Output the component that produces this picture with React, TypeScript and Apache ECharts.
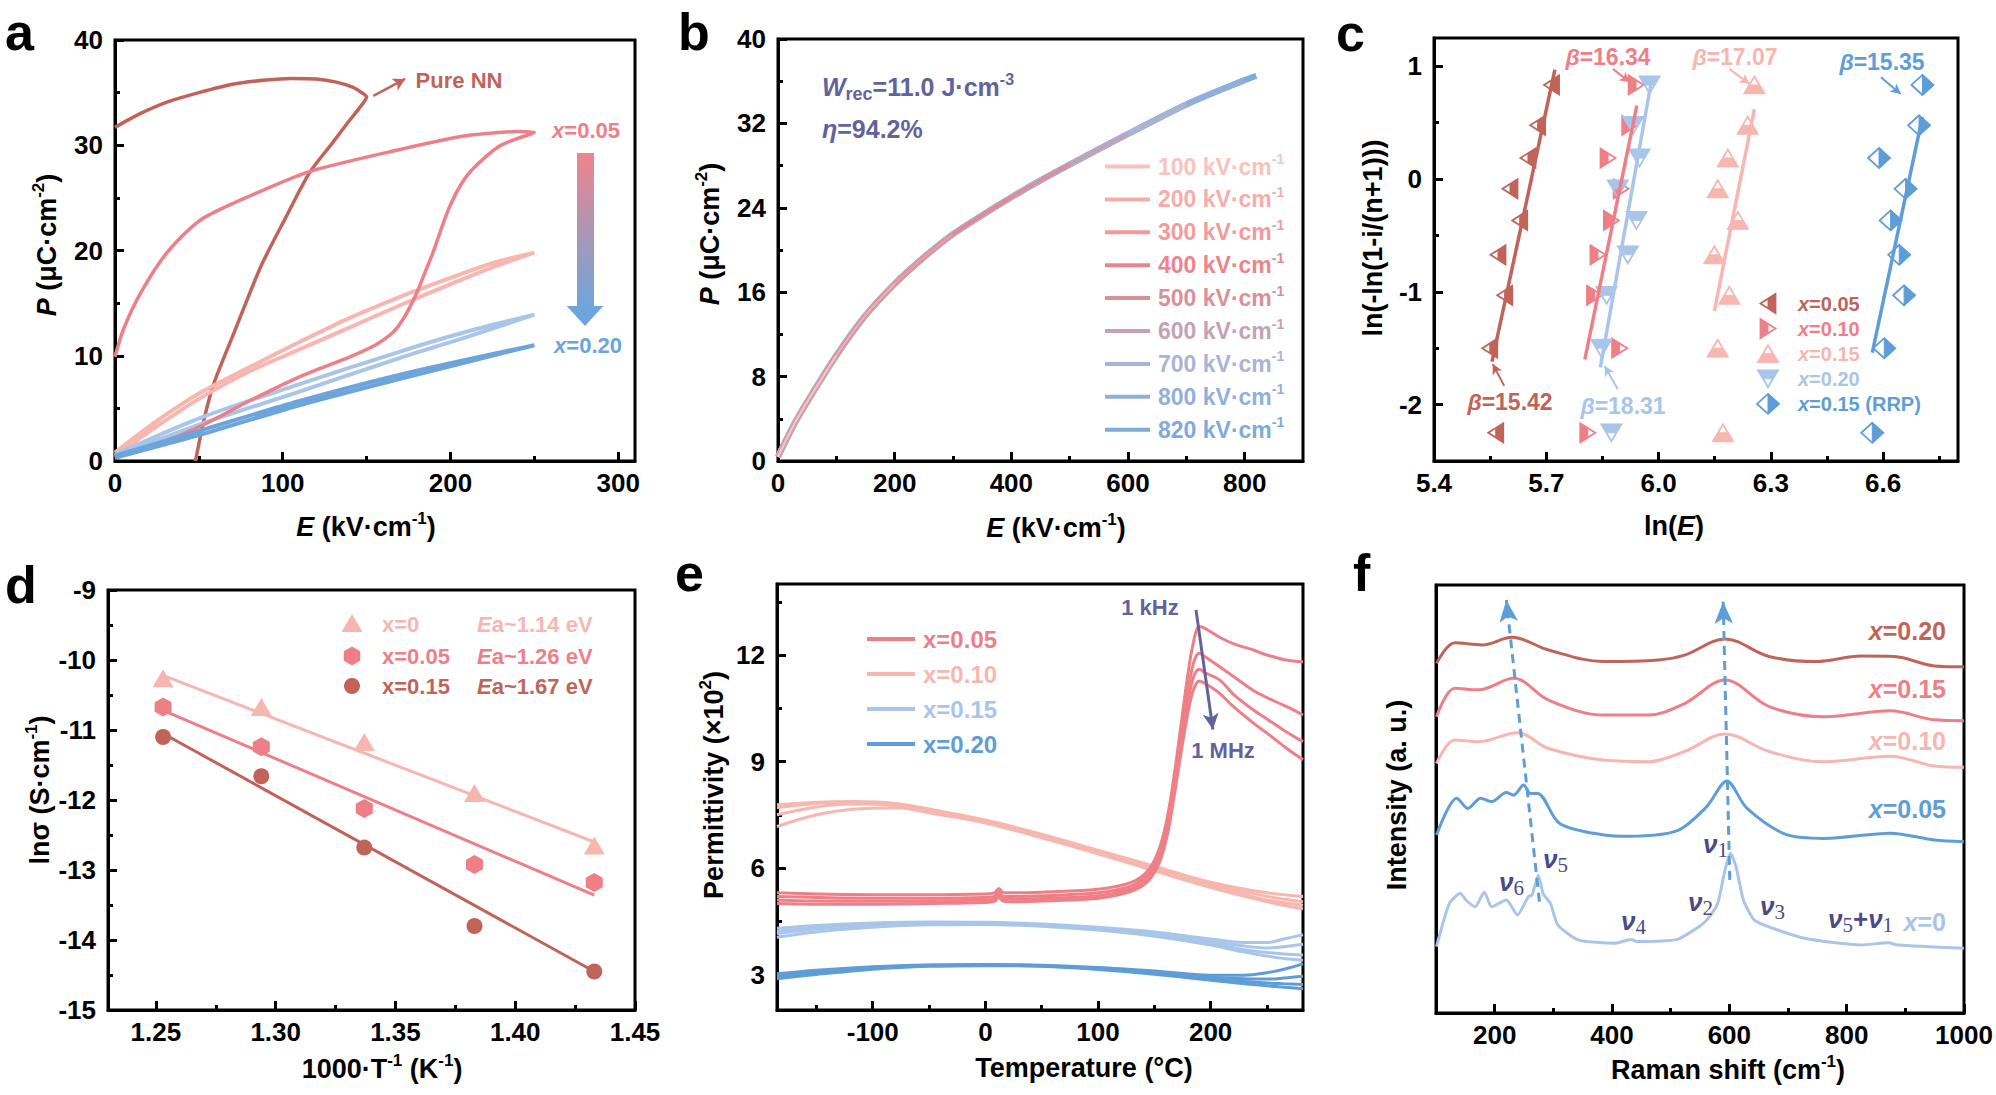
import React, { useEffect, useRef } from "react";
import * as echarts from "echarts";

const FONT = '"Liberation Sans", Arial, Helvetica, sans-serif';
const SERIF = '"Liberation Serif", "Times New Roman", serif';
const TICK_FS = 26;
const TITLE_FS = 27;

const BROWN = "#C0645A";
const PINK = "#EF7F87";
const LPINK = "#F7B6B0";
const LBLUE = "#A9C5EA";
const BLUE = "#5F9DD8";
const ABLUE = "#6CA4DC";
const SLATE = "#61639C";
const NU = "#4A4A86";

// ---------- panel a : P-E loops ----------
const aPureNN = [[0,31.7],[15,33.0],[31,34.1],[50,35.0],[70,35.8],[90,36.2],[105,36.35],[120,36.3],[132,36.0],[142,35.5],[148,34.9],[150,34.6],[146,33.6],[140,32.4],[130,30.3],[116,27.4],[102,23.2],[87,18.5],[71,12.2],[59,7.4],[53,3.9],[48,0]];
const aX005 = [[0,0.3],[25,1.6],[51,3.3],[80,5.7],[110,8],[140,9.9],[155,11.0],[165.6,12.2],[173,13.8],[180,16],[185,18],[189.6,19.8],[195,22.3],[199.6,24.2],[206,26.2],[213,27.7],[229,29.9],[241,30.7],[250,31.2],[241,31.3],[209,30.9],[170,29.6],[116,27.5],[80.7,25.2],[51,22.9],[31,19.8],[15.4,16],[5,12.5],[0,9.9]];
const aX010 = [[0,0.5],[25,3.3],[51,6.0],[80,8.5],[110,10.6],[140,12.7],[170,14.8],[200,16.8],[225,18.4],[250,19.8],[225,18.8],[200,17.4],[170,15.6],[140,13.6],[110,11.3],[80,8.9],[51,6.5],[25,3.8],[0,0.8]];
const aX015 = [[0,0.4],[51,3.5],[110,6.6],[170,9.8],[210,11.8],[250,13.9],[210,12.3],[170,10.4],[110,7.3],[51,4.1],[0,0.6]];
const aX020 = [[0,0.3],[51,2.5],[110,5.3],[170,7.8],[250,11.0],[170,8.2],[110,5.7],[51,2.9],[0,0.5]];

// ---------- panel b : unipolar loops ----------
const bFields = [100, 200, 300, 400, 500, 600, 700, 800, 820];
const bColors = ["#F9C2BD", "#F6ADA9", "#F39A9B", "#EE848B", "#DB8F98", "#C4A2B6", "#A9B4D5", "#92AFDC", "#7EAADC"];
const bE = [0, 25, 50, 100, 150, 200, 250, 300, 350, 400, 450, 500, 600, 700, 800, 820];
const bP = [0.4, 3.2, 5.6, 10, 13.8, 16.8, 19.3, 21.5, 23.3, 25, 26.6, 28.1, 31, 33.8, 36.1, 36.5];

// ---------- panel c : Weibull ----------
const cY = [-2.25, -1.5, -1.031, -0.672, -0.367, -0.087, 0.186, 0.476, 0.834];
const cX005 = [5.565, 5.549, 5.589, 5.571, 5.629, 5.603, 5.651, 5.677, 5.714];
const cX010 = [5.811, 5.896, 5.829, 5.838, 5.874, 5.9, 5.865, 5.923, 5.94];
const cX015 = [6.172, 6.158, 6.189, 6.149, 6.212, 6.158, 6.185, 6.238, 6.256];
const cX020 = [5.874, 5.847, 5.861, 5.918, 5.941, 5.891, 5.949, 5.932, 5.976];
const cXRRP = [6.571, 6.603, 6.656, 6.643, 6.62, 6.66, 6.589, 6.696, 6.705];
const cFit005 = [[5.555, -1.62], [5.723, 0.97]];
const cFit010 = [[5.803, -1.6], [5.942, 0.65]];
const cFit015 = [[6.149, -1.17], [6.256, 0.62]];
const cFit020 = [[5.8445, -1.67], [5.9805, 0.86]];
const cFitRRP = [[6.571, -1.54], [6.705, 0.55]];

// ---------- panel d : Arrhenius ----------
const dX = [1.253, 1.294, 1.337, 1.383, 1.433];
const dY0 = [-10.26, -10.67, -11.17, -11.9, -12.65];
const dY005 = [-10.67, -11.24, -12.12, -12.92, -13.18];
const dY015 = [-11.1, -11.66, -12.68, -13.8, -14.45];
const dFit0 = [[1.253, -10.22], [1.433, -12.6]];
const dFit005 = [[1.253, -10.72], [1.433, -13.36]];
const dFit015 = [[1.253, -11.05], [1.433, -14.45]];

// ---------- panel e : permittivity ----------
const eT05 = [-185,-150,-100,-50,0,8,12,16,25,50,100,130,145,155,162,168,174,180,185,190,195,208,220,238,250,267,282];
const e05a = [5.3,5.27,5.25,5.25,5.27,5.3,5.42,5.3,5.3,5.32,5.4,5.6,5.95,6.6,7.5,8.7,10.1,11.5,12.4,12.8,12.75,12.5,12.32,12.14,12.0,11.86,11.81];
const e05b = [5.2,5.17,5.15,5.15,5.17,5.2,5.33,5.2,5.2,5.22,5.3,5.5,5.85,6.45,7.3,8.5,9.8,11.0,11.8,12.05,11.95,11.67,11.4,11.0,10.8,10.55,10.31];
const e05c = [5.1,5.07,5.06,5.07,5.1,5.13,5.25,5.13,5.12,5.14,5.22,5.42,5.75,6.3,7.1,8.3,9.5,10.7,11.4,11.6,11.5,11.3,10.9,10.45,10.2,9.84,9.56];
const e05d = [5.0,4.98,4.98,5.0,5.03,5.06,5.18,5.06,5.05,5.07,5.15,5.35,5.65,6.2,7.0,8.1,9.3,10.4,11.05,11.27,11.2,10.92,10.55,10.08,9.8,9.38,9.05];
const eT10 = [-185,-150,-120,-80,-40,0,50,100,150,200,250,282];
const e10a = [7.78,7.85,7.87,7.82,7.6,7.35,6.95,6.5,6.05,5.6,5.3,5.2];
const e10b = [7.7,7.82,7.85,7.8,7.58,7.32,6.9,6.45,6.0,5.55,5.2,5.05];
const e10c = [7.5,7.72,7.8,7.76,7.55,7.3,6.88,6.42,5.95,5.5,5.1,4.95];
const e10d = [7.17,7.5,7.65,7.7,7.5,7.27,6.85,6.4,5.92,5.45,5.05,4.85];
const eT15 = [-185,-150,-100,-50,0,50,100,150,200,230,250,265,282];
const e15a = [4.3,4.38,4.45,4.48,4.47,4.42,4.33,4.2,4.0,3.9,3.9,4.0,4.12];
const e15b = [4.22,4.33,4.42,4.46,4.45,4.4,4.3,4.15,3.93,3.8,3.75,3.78,3.85];
const e15c = [4.15,4.28,4.38,4.43,4.43,4.38,4.28,4.12,3.88,3.7,3.62,3.58,3.55];
const e15d = [4.05,4.2,4.33,4.4,4.41,4.36,4.25,4.08,3.83,3.63,3.52,3.45,3.4];
const e20a = [3.02,3.12,3.22,3.27,3.28,3.26,3.2,3.1,2.98,2.98,3.05,3.15,3.3];
const e20b = [2.98,3.08,3.2,3.26,3.27,3.25,3.18,3.07,2.93,2.88,2.87,2.9,2.95];
const e20c = [2.93,3.05,3.18,3.25,3.26,3.24,3.16,3.04,2.88,2.8,2.76,2.74,2.72];
const e20d = [2.88,3.0,3.15,3.23,3.25,3.23,3.14,3.01,2.84,2.74,2.68,2.64,2.6];

// ---------- panel f : Raman ----------
const f020 = [[100.9,81.7],[132.2,86.5],[179.2,86.0],[229.3,87.8],[292,84.8],[385.9,82.1],[479.9,82.5],[523.7,83.6],[592.6,87.4],[667.8,83.3],[749.2,82.1],[824.4,83.4],[880.8,83.3],[949.7,81.1],[999.8,80.9]];
const f015 = [[100.9,69.2],[132.2,75.9],[172.9,75.5],[232.5,78.2],[292,73.1],[385.9,69.6],[461.1,69.6],[523.7,72.3],[592.6,77.8],[667.8,71.6],[761.8,69.2],[874.5,70.6],[949.7,68.5],[999.8,68.3]];
const f010 = [[100.9,58.3],[132.2,63.8],[172.9,63.4],[238.7,65.5],[292,61.8],[385.9,59.1],[461.1,58.7],[523.7,61.1],[592.6,65.2],[667.8,61.1],[761.8,58.7],[874.5,60.0],[949.7,57.7],[999.8,57.4]];
const f005 = [[100.9,41.6],[135.4,50.2],[154.2,47.8],[176.1,50.2],[194.9,49.4],[219.9,51.5],[232.5,50.9],[249.4,53.3],[260.6,51.3],[273.2,51.3],[310.8,44.3],[385.9,41.6],[429.8,41.3],[511.2,42.6],[561.3,48.2],[595.8,54.2],[630.2,47.8],[699.1,41.6],[761.8,40.8],[874.5,42.0],[949.7,40.4],[999.8,40.0]];
const f000 = [[100.9,15.5],[122.8,25.6],[141.6,28.0],[151,26.4],[166.7,24.8],[182.3,28.3],[194.9,24.8],[219.9,26.4],[238.7,22.9],[257.5,27.2],[263.8,27.6],[274.4,32.2],[282.6,27.9],[295.1,25.6],[307.6,20.6],[342.1,17.1],[404.7,16.3],[432.9,17.2],[442.3,16.7],[511.2,17.2],[548.8,20.2],[561.3,21.7],[580.1,25.6],[592.6,33.4],[602,37.3],[611.4,34.2],[624,26.4],[642.7,21.7],[674,19.8],[730.4,17.4],[824.4,15.9],[871.3,16.4],[887,15.9],[999.8,15.1]];

// ---------- helpers ----------
function rich(color: string, s: number) {
  const base: any = { fill: color, color, fontFamily: FONT, fontWeight: "bold", fontSize: s, lineHeight: Math.round(s * 1.25) };
  return {
    n: { ...base },
    i: { ...base, fontStyle: "italic" },
    sup: { ...base, fontSize: Math.round(s * 0.62), lineHeight: Math.round(s * 0.6), verticalAlign: "top" },
    sub: { ...base, fontSize: Math.round(s * 0.72), lineHeight: Math.round(s * 0.6), verticalAlign: "bottom" },
    v: { ...base, fontStyle: "italic" },
    s: { ...base, fontFamily: SERIF, fontWeight: "normal", fontSize: Math.round(s * 0.8), lineHeight: Math.round(s * 0.6), verticalAlign: "bottom" },
  };
}

function T(x: number, y: number, text: string, color: string, s: number, align = "left", rot = 0) {
  return {
    type: "text", x, y, rotation: rot, z: 50, silent: true,
    style: { x: 0, y: 0, text, fill: color, fontFamily: FONT, fontWeight: "bold", fontSize: s, align, textAlign: align, verticalAlign: "middle", textVerticalAlign: "middle", rich: rich(color, s) },
  };
}

function letter(x: number, y: number, t: string) {
  return {
    type: "text", x, y, z: 50, silent: true,
    style: { x: 0, y: 0, text: t, fill: "#000", fontFamily: FONT, fontWeight: "bold", fontSize: 52, lineHeight: 52, align: "left", textAlign: "left", verticalAlign: "middle", textVerticalAlign: "middle" },
  };
}

function markerPolys(shape: string, cx: number, cy: number, color: string) {
  let outline: number[][];
  let half: number[][];
  if (shape === "diamond") {
    outline = [[0, -10], [11, 0], [0, 10], [-11, 0]];
    half = [[0, -10], [11, 0], [0, 10]];
  } else {
    const side = shape === "left" || shape === "right";
    const w = side ? 19 : 20;
    const h = side ? 15 : 17;
    const tri = [[0, -h / 2], [w / 2, h / 2], [-w / 2, h / 2]];
    const hf = [[-w / 4, 0], [w / 4, 0], [w / 2, h / 2], [-w / 2, h / 2]];
    const map = (p: number[]) =>
      shape === "up" ? [p[0], p[1]] : shape === "down" ? [p[0], -p[1]] : shape === "left" ? [p[1], p[0]] : [-p[1], p[0]];
    outline = tri.map(map);
    half = hf.map(map);
  }
  const tr = (pts: number[][]) => pts.map((p) => [cx + p[0], cy + p[1]]);
  return [
    { type: "polygon", shape: { points: tr(half) }, style: { fill: color, stroke: color, lineWidth: 1 } },
    { type: "polygon", shape: { points: tr(outline) }, style: { fill: "none", stroke: color, lineWidth: 1.8 } },
  ];
}

function addAxis(list: any[], dim: "x" | "y", grid: number, min: number, max: number, cfg: any): number {
  const base: any = {
    type: "value", gridIndex: grid, min, max,
    position: dim === "x" ? "bottom" : "left",
    axisLine: { show: true, onZero: false, lineStyle: { color: "#000", width: 3 } },
    axisTick: { show: cfg.ticks !== false, inside: true, length: 9, lineStyle: { color: "#000", width: 3 } },
    axisLabel: { show: cfg.labels !== false, color: "#000", fontFamily: FONT, fontWeight: "bold", fontSize: TICK_FS, margin: dim === "x" ? 9 : 12, formatter: cfg.fmt || ((v: number) => String(v)) },
    splitLine: { show: false },
  };
  if (cfg.interval) {
    base.interval = cfg.interval;
    base.minorTick = { show: true, splitNumber: 2, length: 5, lineStyle: { color: "#000", width: 3 } };
  }
  if (cfg.major) {
    base.axisTick.customValues = cfg.major;
    base.axisLabel.customValues = cfg.major;
  }
  const idx = list.length;
  list.push(base);
  if (cfg.minor) {
    list.push({
      type: "value", gridIndex: grid, min, max, position: base.position,
      axisLine: { show: false, onZero: false },
      axisTick: { show: true, inside: true, length: 5, customValues: cfg.minor, lineStyle: { color: "#000", width: 3 } },
      axisLabel: { show: false }, splitLine: { show: false },
    });
  }
  return idx;
}

function arrowML(from: number[], to: number[], color: string, width: number, size: number[], dashed = false) {
  return {
    silent: true, symbol: ["none", "arrow"], symbolSize: size, label: { show: false }, emphasis: { disabled: true },
    lineStyle: { color, width, type: dashed ? [9, 6] : "solid", opacity: 1 },
    data: [[{ coord: from }, { coord: to }]],
  };
}

function buildOption() {
  const grids = [
    { left: 115, top: 40, width: 520, height: 421 },
    { left: 778, top: 39, width: 525, height: 422 },
    { left: 1434, top: 38, width: 524, height: 423 },
    { left: 108, top: 590, width: 527, height: 420 },
    { left: 777, top: 584, width: 526, height: 426 },
    { left: 1436, top: 585, width: 528, height: 428 },
  ].map((g) => ({ ...g, show: true, borderColor: "#000", borderWidth: 3, backgroundColor: "transparent" }));

  const xA: any[] = [];
  const yA: any[] = [];
  const ax = addAxis(xA, "x", 0, 0, 310, { major: [0, 100, 200, 300], minor: [50, 150, 250] });
  const ay = addAxis(yA, "y", 0, 0, 40, { interval: 10 });
  const bx = addAxis(xA, "x", 1, 0, 900, { major: [0, 200, 400, 600, 800], minor: [100, 300, 500, 700] });
  const by = addAxis(yA, "y", 1, 0, 40, { interval: 8 });
  const cx = addAxis(xA, "x", 2, 5.4, 6.8, { major: [5.4, 5.7, 6.0, 6.3, 6.6], minor: [5.55, 5.85, 6.15, 6.45, 6.75], fmt: (v: number) => v.toFixed(1) });
  const cy = addAxis(yA, "y", 2, -2.5, 1.25, { major: [-2, -1, 0, 1], minor: [-1.5, -0.5, 0.5] });
  const dx = addAxis(xA, "x", 3, 1.23, 1.45, { major: [1.25, 1.3, 1.35, 1.4, 1.45], minor: [1.275, 1.325, 1.375, 1.425], fmt: (v: number) => v.toFixed(2) });
  const dy = addAxis(yA, "y", 3, -15, -9, { interval: 1 });
  const ex = addAxis(xA, "x", 4, -185, 282, { major: [-100, 0, 100, 200], minor: [-150, -50, 50, 150, 250] });
  const ey = addAxis(yA, "y", 4, 2, 14, { major: [3, 6, 9, 12], minor: [4.5, 7.5, 10.5, 13.5] });
  const fx = addAxis(xA, "x", 5, 100, 1000, { major: [200, 400, 600, 800, 1000], minor: [300, 500, 700, 900] });
  const fy = addAxis(yA, "y", 5, 0, 100, { labels: false, ticks: false });

  const S: any[] = [];
  const line = (xi: number, yi: number, data: any[], color: string, width: number, extra: any = {}) =>
    S.push({ type: "line", xAxisIndex: xi, yAxisIndex: yi, data, showSymbol: false, symbol: "none", smooth: 0.3, lineStyle: { color, width }, itemStyle: { color }, silent: true, ...extra });

  // a
  line(ax, ay, aPureNN, BROWN, 3.5, { smooth: 0.25, markLine: arrowML([154, 34.7], [173, 36.3], BROWN, 2.5, [10, 12]) });
  line(ax, ay, aX010, LPINK, 4);
  line(ax, ay, aX015, LBLUE, 4);
  line(ax, ay, aX005, PINK, 3.5, { smooth: 0.25 });
  line(ax, ay, aX020, ABLUE, 4);

  // b (reverse so lower fields are on top)
  for (let k = bFields.length - 1; k >= 0; k--) {
    const f = bFields[k];
    const data = bE.map((e, i) => [e, bP[i]]).filter((p) => p[0] <= f);
    const w = k >= 6 ? 6 : k >= 4 ? 4 : 2.2;
    line(bx, by, data, bColors[k], w);
  }

  // c
  const cSets: [number[], string, string, number[][], any][] = [
    [cX005, "left", BROWN, cFit005, arrowML([5.5875, -1.834], [5.557, -1.641], BROWN, 2, [8, 10])],
    [cX010, "right", PINK, cFit010, arrowML([5.878, 0.976], [5.923, 0.858], PINK, 2, [8, 10])],
    [cX015, "up", LPINK, cFit015, arrowML([6.189, 0.976], [6.243, 0.843], LPINK, 2, [8, 10])],
    [cX020, "down", LBLUE, cFit020, arrowML([5.891, -1.863], [5.856, -1.657], LBLUE, 2, [8, 10])],
    [cXRRP, "diamond", BLUE, cFitRRP, arrowML([6.594, 0.902], [6.647, 0.754], BLUE, 2, [8, 10])],
  ];
  cSets.forEach(([xs, shape, color, fit, ml]) => {
    S.push({
      type: "custom", coordinateSystem: "cartesian2d", xAxisIndex: cx, yAxisIndex: cy, silent: true, z: 3,
      data: xs.map((x, i) => [x, cY[i]]), encode: { x: 0, y: 1 },
      renderItem: (_p: any, api: any) => {
        const pt = api.coord([api.value(0), api.value(1)]);
        return { type: "group", children: markerPolys(shape, pt[0], pt[1], color) };
      },
    });
    line(cx, cy, fit, color, 3.5, { smooth: false, z: 4, markLine: ml });
  });

  // d
  const scat = (ys: number[], color: string, symbol: string, size: any) =>
    S.push({ type: "scatter", xAxisIndex: dx, yAxisIndex: dy, data: dX.map((x, i) => [x, ys[i]]), symbol, symbolSize: size, itemStyle: { color, opacity: 1 }, silent: true, z: 3 });
  line(dx, dy, dFit0, LPINK, 3, { smooth: false });
  line(dx, dy, dFit005, PINK, 3, { smooth: false });
  line(dx, dy, dFit015, BROWN, 3, { smooth: false });
  scat(dY0, LPINK, "triangle", [21, 18]);
  scat(dY005, PINK, "path://M10,0 L18.66,5 L18.66,15 L10,20 L1.34,15 L1.34,5 Z", [17, 19]);
  scat(dY015, BROWN, "circle", 16);

  // e
  const eLines = (Ts: number[], arrs: number[][], color: string) =>
    arrs.forEach((a, j) => line(ex, ey, Ts.map((t, i) => [t, a[i]]), color, 3, { smooth: 0.35, ...(j === 0 && color === PINK ? { markLine: arrowML([187, 13.27], [202, 9.9], SLATE, 3, [12, 16]) } : {}) }));
  eLines(eT10, [e10a, e10b, e10c, e10d], LPINK);
  eLines(eT15, [e15a, e15b, e15c, e15d], LBLUE);
  eLines(eT15, [e20a, e20b, e20c, e20d], BLUE);
  eLines(eT05, [e05a, e05b, e05c, e05d], PINK);

  // f
  line(fx, fy, f020, BROWN, 3, { smooth: 0.35, markLine: arrowML([276.3, 26.0], [219.9, 96.5], BLUE, 3, [14, 22], true) });
  line(fx, fy, f015, PINK, 3, { smooth: 0.35, markLine: arrowML([600.8, 31.1], [589.5, 96.1], BLUE, 3, [14, 22], true) });
  line(fx, fy, f010, LPINK, 3, { smooth: 0.35 });
  line(fx, fy, f005, BLUE, 3, { smooth: 0.3 });
  line(fx, fy, f000, LBLUE, 3, { smooth: 0.2 });

  // ---------- graphic ----------
  const G: any[] = [];
  ([["a", 5, 32], ["b", 678, 32], ["c", 1336, 33], ["d", 5, 585], ["e", 675, 573], ["f", 1353, 573]] as [string, number, number][]).forEach(([t, x, y]) =>
    G.push(letter(x, y, t)));

  const R90 = Math.PI / 2;
  G.push(T(366, 527, "{i|E}{n| (kV·cm}{sup|-1}{n|)}", "#000", TITLE_FS, "center"));
  G.push(T(47, 245, "{i|P}{n| (μC·cm}{sup|-2}{n|)}", "#000", TITLE_FS, "center", R90));
  G.push(T(1056, 528, "{i|E}{n| (kV·cm}{sup|-1}{n|)}", "#000", TITLE_FS, "center"));
  G.push(T(710, 234, "{i|P}{n| (μC·cm}{sup|-2}{n|)}", "#000", TITLE_FS, "center", R90));
  G.push(T(1674, 526, "{n|ln(}{i|E}{n|)}", "#000", TITLE_FS, "center"));
  G.push(T(1373, 238, "{n|ln(-ln(1-i/(n+1)))}", "#000", TITLE_FS, "center", R90));
  G.push(T(382, 1069, "{n|1000·T}{sup|-1}{n| (K}{sup|-1}{n|)}", "#000", TITLE_FS, "center"));
  G.push(T(40, 790, "{n|lnσ (S·cm}{sup|-1}{n|)}", "#000", TITLE_FS, "center", R90));
  G.push(T(1084, 1068, "{n|Temperature (°C)}", "#000", TITLE_FS, "center"));
  G.push(T(714, 785, "{n|Permittivity (×10}{sup|2}{n|)}", "#000", TITLE_FS, "center", R90));
  G.push(T(1728, 1070, "{n|Raman shift (cm}{sup|-1}{n|)}", "#000", TITLE_FS, "center"));
  G.push(T(1397, 795, "{n|Intensity (a. u.)}", "#000", TITLE_FS, "center", R90));

  // a annotations
  G.push(T(459, 80, "{n|Pure NN}", BROWN, 22, "center"));
  G.push(T(586, 130, "{i|x}{n|=0.05}", PINK, 22, "center"));
  G.push(T(588, 345, "{i|x}{n|=0.20}", ABLUE, 22, "center"));
  G.push({
    type: "rect", z: 40, silent: true, shape: { x: 577, y: 153, width: 17, height: 154 },
    style: { fill: new echarts.graphic.LinearGradient(0, 0, 0, 1, [{ offset: 0, color: "#EE848B" }, { offset: 1, color: "#6EA6DC" }]) },
  });
  G.push({ type: "polygon", z: 40, silent: true, shape: { points: [[566.7, 306], [603.3, 306], [585, 326]] }, style: { fill: "#6EA6DC" } });

  // b annotations + legend
  G.push(T(822, 87, "{i|W}{sub|rec}{n|=11.0 J·cm}{sup|-3}", SLATE, 25));
  G.push(T(822, 129, "{i|η}{n|=94.2%}", SLATE, 25));
  bFields.forEach((f, i) => {
    const y = 166.5 + i * 32.9;
    G.push({ type: "line", z: 40, silent: true, shape: { x1: 1105, y1: y, x2: 1150, y2: y }, style: { stroke: bColors[i], lineWidth: 4 } });
    G.push(T(1158, y, `{n|${f} kV·cm}{sup|-1}`, bColors[i], 23));
  });

  // c annotations + legend
  G.push(T(1608, 57, "{i|β}{n|=16.34}", PINK, 23, "center"));
  G.push(T(1735, 57, "{i|β}{n|=17.07}", LPINK, 23, "center"));
  G.push(T(1882, 62, "{i|β}{n|=15.35}", BLUE, 23, "center"));
  G.push(T(1510, 402, "{i|β}{n|=15.42}", BROWN, 23, "center"));
  G.push(T(1623, 406, "{i|β}{n|=18.31}", LBLUE, 23, "center"));
  const cLeg: [string, string, string][] = [
    ["left", BROWN, "{i|x}{n|=0.05}"], ["right", PINK, "{i|x}{n|=0.10}"], ["up", LPINK, "{i|x}{n|=0.15}"],
    ["down", LBLUE, "{i|x}{n|=0.20}"], ["diamond", BLUE, "{i|x}{n|=0.15 (RRP)}"],
  ];
  cLeg.forEach(([sh, col, t], i) => {
    const y = 303.5 + i * 25.1;
    markerPolys(sh, 1768, y, col).forEach((el) => G.push({ ...el, z: 40, silent: true }));
    G.push(T(1798, y, t, col, 20));
  });

  // d legend
  const dLeg: [string, string, string, string][] = [
    [LPINK, "tri", "{n|x=0}", "{i|E}{n|a~1.14 eV}"],
    [PINK, "hex", "{n|x=0.05}", "{i|E}{n|a~1.26 eV}"],
    [BROWN, "circ", "{n|x=0.15}", "{i|E}{n|a~1.67 eV}"],
  ];
  const dRows = [624, 656, 686];
  dLeg.forEach(([col, sh, t1, t2], i) => {
    const y = dRows[i];
    const cxp = 352;
    if (sh === "tri") G.push({ type: "polygon", z: 40, silent: true, shape: { points: [[cxp, y - 10], [cxp + 10.5, y + 8], [cxp - 10.5, y + 8]] }, style: { fill: col } });
    else if (sh === "hex") G.push({ type: "polygon", z: 40, silent: true, shape: { points: [[cxp, y - 9.5], [cxp + 8.2, y - 4.75], [cxp + 8.2, y + 4.75], [cxp, y + 9.5], [cxp - 8.2, y + 4.75], [cxp - 8.2, y - 4.75]] }, style: { fill: col } });
    else G.push({ type: "circle", z: 40, silent: true, shape: { cx: cxp, cy: y, r: 8 }, style: { fill: col } });
    G.push(T(382, y, t1, col, 22));
    G.push(T(477, y, t2, col, 22));
  });

  // e legend + annotations
  const eLeg: [string, string][] = [[PINK, "x=0.05"], [LPINK, "x=0.10"], [LBLUE, "x=0.15"], [BLUE, "x=0.20"]];
  eLeg.forEach(([col, t], i) => {
    const y = 639 + i * 35;
    G.push({ type: "line", z: 40, silent: true, shape: { x1: 867, y1: y, x2: 915, y2: y }, style: { stroke: col, lineWidth: 4 } });
    G.push(T(923, y, `{n|${t}}`, col, 24));
  });
  G.push(T(1150, 607, "{n|1 kHz}", SLATE, 22, "center"));
  G.push(T(1223, 750, "{n|1 MHz}", SLATE, 22, "center"));

  // f labels
  G.push(T(1946, 631, "{i|x}{n|=0.20}", BROWN, 25, "right"));
  G.push(T(1946, 689, "{i|x}{n|=0.15}", PINK, 25, "right"));
  G.push(T(1946, 741, "{i|x}{n|=0.10}", LPINK, 25, "right"));
  G.push(T(1946, 809, "{i|x}{n|=0.05}", BLUE, 25, "right"));
  G.push(T(1946, 922, "{i|x}{n|=0}", LBLUE, 25, "right"));
  ([["6", 1499, 882], ["5", 1543, 859], ["1", 1703, 844], ["2", 1688, 902], ["3", 1760, 906], ["4", 1621, 921]] as [string, number, number][]).forEach(([s, x, y]) =>
    G.push(T(x, y, `{v|ν}{s|${s}}`, NU, 26)));
  G.push(T(1828, 919, "{v|ν}{s|5}{n|+}{v|ν}{s|1}", NU, 26));

  return {
    animation: false,
    backgroundColor: "#fff",
    grid: grids,
    xAxis: xA,
    yAxis: yA,
    series: S,
    graphic: { elements: G },
  };
}

export default function App() {
  const ref = useRef<HTMLDivElement>(null);
  useEffect(() => {
    if (!ref.current) return;
    const chart = echarts.init(ref.current, null, { renderer: "svg" });
    chart.setOption(buildOption() as any);
    return () => chart.dispose();
  }, []);
  return <div ref={ref} style={{ position: "absolute", left: 0, top: 0, width: 1996, height: 1095, background: "#fff" }} />;
}
